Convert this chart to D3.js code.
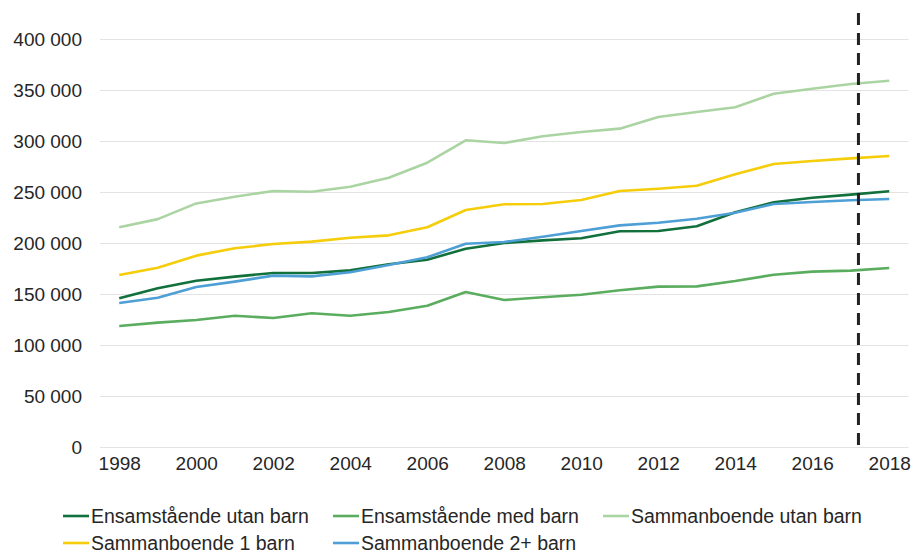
<!DOCTYPE html>
<html>
<head>
<meta charset="utf-8">
<script src="https://cdn.jsdelivr.net/npm/d3@7"></script>
<style>
    body { margin: 0; background: #fff; }
    text { font-family: "Liberation Sans", Arial, sans-serif; fill: #262626; }
</style>
</head>
<body>
<script>
// Years on the x axis
var years = [1998, 1999, 2000, 2001, 2002, 2003, 2004, 2005, 2006, 2007, 2008,
             2009, 2010, 2011, 2012, 2013, 2014, 2015, 2016, 2017, 2018];

var ensamUtanBarn = [146100, 155900, 163300, 167300, 170900, 170900, 173500, 179400, 183900, 194700, 200300,
                     202900, 204900, 211800, 212000, 216700, 230500, 240200, 244700, 247700, 251000];
var ensamMedBarn = [118900, 122200, 124800, 129000, 126800, 131400, 129000, 132600, 138800, 152300, 144400,
                    147100, 149600, 153900, 157500, 157800, 163000, 169200, 172200, 173200, 175800];
var sambUtanBarn = [215700, 223700, 239100, 245700, 251300, 250600, 255500, 264300, 279000, 301000, 298300,
                    304900, 309100, 312400, 323800, 328700, 333300, 346700, 351600, 356200, 359400];
var samb1Barn = [168900, 176000, 187900, 195100, 199300, 201600, 205500, 207800, 215700, 232600, 238300,
                 238500, 242500, 251300, 253500, 256400, 267800, 277700, 280700, 283300, 285600];
var samb2Barn = [141500, 146700, 157200, 162400, 168300, 167600, 171600, 178700, 186300, 199600, 201300,
                 206500, 212000, 217600, 220200, 224000, 230000, 238500, 240500, 242200, 243400];

var seriesNames = ["Ensamstående utan barn", "Ensamstående med barn", "Sammanboende utan barn",
                   "Sammanboende 1 barn", "Sammanboende 2+ barn"];
var seriesColors = ["#11703b", "#5aad5e", "#abd4a3", "#f5cd0a", "#4e9fd5"];

var yTicks = [0, 50000, 100000, 150000, 200000, 250000, 300000, 350000, 400000];
var xTickYears = [1998, 2000, 2002, 2004, 2006, 2008, 2010, 2012, 2014, 2016, 2018];

// position of the dashed vertical marker
var markerYear = 2017.2;

var width = 912, height = 554;

var series = [ensamUtanBarn, ensamMedBarn, sambUtanBarn, samb1Barn, samb2Barn].map(function(values, i) {
    return {
        name: seriesNames[i],
        color: seriesColors[i],
        values: values.map(function(v, j) { return {year: years[j], value: v}; })
    };
});

var svg = d3.select("body").append("svg")
    .attr("width", width)
    .attr("height", height);

var x = d3.scaleLinear()
    .domain([1997.5, 2018.5])
    .range([100, 908.5]);

var y = d3.scaleLinear()
    .domain([0, 400000])
    .range([447.3, 39.3]);

var fmt = d3.formatLocale({decimal: ",", thousands: " ", grouping: [3], currency: ["", ""]}).format(",");

// Gridlines
svg.append("g")
    .selectAll("line")
    .data(yTicks)
    .enter()
    .append("line")
    .attr("x1", x.range()[0])
    .attr("x2", x.range()[1])
    .attr("y1", function(d) { return Math.round(y(d)) + 0.5; })
    .attr("y2", function(d) { return Math.round(y(d)) + 0.5; })
    .attr("stroke", "#e3e3e3")
    .attr("stroke-width", 1);

// Y axis labels
var yAxis = svg.append("g")
    .attr("transform", "translate(" + x.range()[0] + ",0)")
    .call(d3.axisLeft(y).tickValues(yTicks).tickFormat(fmt).tickSize(0).tickPadding(18));
yAxis.select(".domain").remove();
yAxis.selectAll("text")
    .style("font-size", "19px")
    .style("font-family", "'Liberation Sans', Arial, sans-serif")
    .attr("fill", "#262626");

// X axis labels
var xAxis = svg.append("g")
    .attr("transform", "translate(0," + y(0) + ")")
    .call(d3.axisBottom(x).tickValues(xTickYears).tickFormat(d3.format("d")).tickSize(0).tickPadding(9));
xAxis.select(".domain").remove();
xAxis.selectAll("text")
    .style("font-size", "19px")
    .style("font-family", "'Liberation Sans', Arial, sans-serif")
    .attr("fill", "#262626");

// Lines
var line = d3.line()
    .x(function(d) { return x(d.year); })
    .y(function(d) { return y(d.value); });

svg.append("g")
    .selectAll("path")
    .data(series)
    .enter()
    .append("path")
    .attr("d", function(d) { return line(d.values); })
    .attr("fill", "none")
    .attr("stroke", function(d) { return d.color; })
    .attr("stroke-width", 2.6)
    .attr("stroke-linejoin", "round");

// Dashed marker
svg.append("line")
    .attr("x1", x(markerYear))
    .attr("x2", x(markerYear))
    .attr("y1", 13)
    .attr("y2", y(0))
    .attr("stroke", "#222")
    .attr("stroke-width", 3)
    .attr("stroke-dasharray", "12,8");

// Legend, three items per row
var legend = svg.append("g")
    .selectAll("g")
    .data(series)
    .enter()
    .append("g")
    .attr("transform", function(d, i) {
        return "translate(" + (63 + 270 * (i % 3)) + "," + (516 + 27 * Math.floor(i / 3)) + ")";
    });

legend.append("line")
    .attr("x1", 0)
    .attr("x2", 26)
    .attr("stroke", function(d) { return d.color; })
    .attr("stroke-width", 2.6);

legend.append("text")
    .attr("x", 28)
    .attr("dy", "0.35em")
    .style("font-size", "19.5px")
    .text(function(d) { return d.name; });
</script>
</body>
</html>
